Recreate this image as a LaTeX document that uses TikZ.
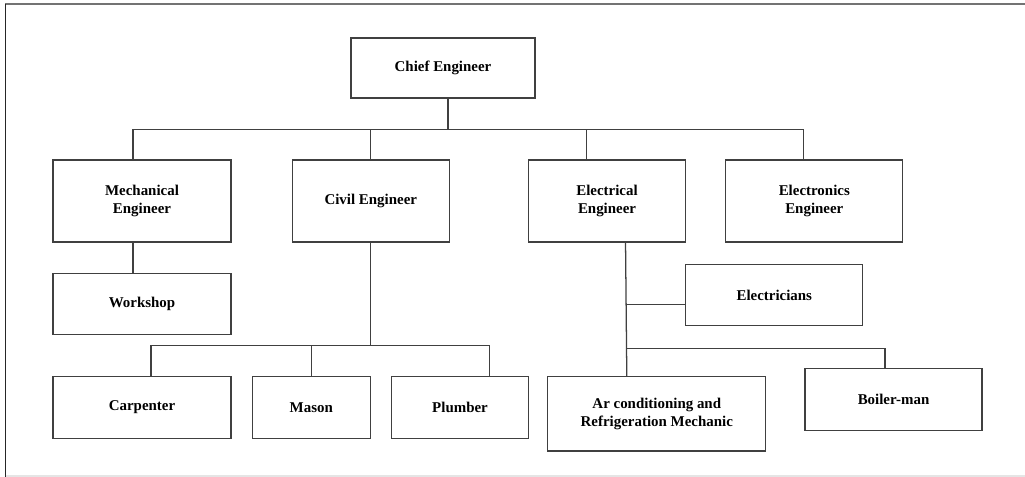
\documentclass[tikz,border=0pt]{standalone}
\usepackage{fontspec}
\setmainfont{Liberation Serif}
\usetikzlibrary{positioning}

\begin{document}
\begin{tikzpicture}[
    x=0.75pt, y=0.75pt,
    node distance=22.5pt and 45pt,
    box/.style={rectangle, draw=black!75, line width=0.95pt, minimum width=133.5pt, minimum height=46pt, align=center, inner sep=2pt, font=\fontsize{11.2}{13.4}\selectfont\bfseries},
    headbox/.style={box, minimum height=61.5pt},
    link/.style={draw=black!75, line width=0.95pt}
]

% page frame
\useasboundingbox (0,0) rectangle (1025,-477);
\draw[black!55, line width=1.5pt] (5,-4) -- (1025,-4);
\draw[black!85, line width=1.1pt] (5.5,-4) -- (5.5,-477);
\draw[black!10, line width=0.8pt] (5.5,-476) -- (1025,-476);

\node[box, minimum width=138pt, minimum height=45pt] (chief) at (443,-68) {Chief Engineer};

\node[headbox] (mech) at (142,-201) {Mechanical\\Engineer};
\node[headbox, minimum width=117.75pt, right=45pt of mech] (civil) {Civil Engineer};
\node[headbox, minimum width=117.75pt, right=58.5pt of civil] (elec) {Electrical\\Engineer};
\node[headbox, minimum width=132.75pt, right=29.25pt of elec] (elx) {Electronics\\Engineer};

\node[box, below=of mech] (workshop) {Workshop};
\node[box, below=30.75pt of workshop] (carpenter) {Carpenter};
\node[box, minimum width=88.5pt, right=15pt of carpenter] (mason) {Mason};
\node[box, minimum width=102.75pt, right=15pt of mason] (plumber) {Plumber};

\node[box, minimum width=132.75pt, below right=15.75pt and -0.75pt of elec] (electricians) {Electricians};
\node[box, minimum width=163.5pt, minimum height=55.5pt, right=13.5pt of plumber.north east, anchor=north west] (aircon) {Ar conditioning and\\Refrigeration Mechanic};
\node[box, minimum width=132.75pt, right=28.5pt of aircon.north east, anchor=north west, yshift=6pt] (boiler) {Boiler-man};

% chief to heads
\coordinate (topbus) at ([xshift=3.75pt, yshift=-23.25pt]chief.south);
\coordinate (mechin) at ([xshift=-6.75pt]mech.north);
\coordinate (elecin) at ([xshift=-15.375pt]elec.north);
\coordinate (elxin) at ([xshift=-7.875pt]elx.north);
\draw[link] ([xshift=3.75pt]chief.south) -- (topbus);
\draw[link] (mechin) |- (topbus);
\draw[link] (elxin) |- (topbus);
\draw[link] (civil.north) -- (civil.north |- topbus);
\draw[link] (elecin) -- (elecin |- topbus);

% mechanical
\draw[link] ([xshift=-6.75pt]mech.south) -- ([xshift=-6.75pt]workshop.north);

% civil
\coordinate (civilbus) at ([yshift=-77.25pt]civil.south);
\coordinate (carpin) at ([xshift=6.75pt]carpenter.north);
\coordinate (plumbin) at ([xshift=22.125pt]plumber.north);
\draw[link] (civil.south) -- (civilbus);
\draw[link] (carpin) |- (civilbus);
\draw[link] (plumbin) |- (civilbus);
\draw[link] (mason.north) -- (mason.north |- civilbus);

% electrical
\coordinate (elecout) at ([xshift=13.875pt]elec.south);
\coordinate (airin) at ([xshift=-22.5pt]aircon.north);
\coordinate (elecjoin) at ([yshift=-7.125pt]electricians.west);
\coordinate (boilin) at ([xshift=-6.375pt]boiler.north);
\coordinate (boilbus) at ([yshift=15pt]boilin);
\draw[link] (elecout) -- (airin);
\draw[link] (elecjoin) -- (elecjoin -| elecout);
\draw[link] (boilin) -- (boilbus) -- (boilbus -| elecout);

\end{tikzpicture}
\end{document}
